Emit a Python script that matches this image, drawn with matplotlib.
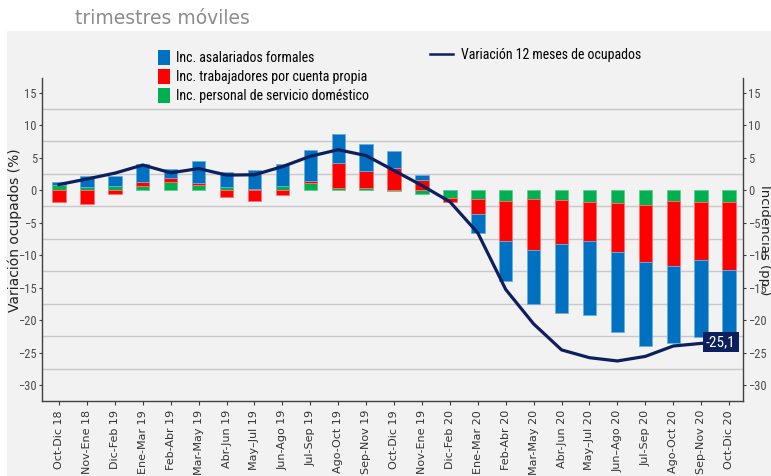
import numpy as np
import matplotlib.pyplot as plt
from matplotlib.patches import Rectangle, Patch
from matplotlib.lines import Line2D

periodos = ["Oct-Dic 18", "Nov-Ene 18", "Dic-Feb 19", "Ene-Mar 19", "Feb-Abr 19",
            "Mar-May 19", "Abr-Jun 19", "May\u2013Jul 19", "Jun-Ago 19", "Jul-Sep 19",
            "Ago-Oct 19", "Sep-Nov 19", "Oct-Dic 19", "Nov-Ene 19", "Dic-Feb 20",
            "Ene-Mar 20", "Feb-Abr 20", "Mar-May 20", "Abr-Jun 20", "May\u2013Jul 20",
            "Jun\u2013Ago 20", "Jul-Sep 20", "Ago-Oct 20", "Sep-Nov 20", "Oct-Dic 20"]

asalariados = [0.51, 1.7, 1.43, 2.77, 1.43, 3.5, 2.3, 2.95, 3.4, 4.77, 4.46, 4.3, 2.7,
               0.72, 0.0, -3.0, -6.15, -8.2, -10.6, -11.3, -12.3, -13.05, -11.9, -11.9, -9.8]
cuenta_propia = [-1.8, -2.1, -0.56, 0.61, 0.57, 0.26, -1.1, -1.65, -0.8, 0.35, 3.74, 2.5, 3.35,
                 1.54, -0.6, -2.25, -6.15, -7.9, -6.7, -6.0, -7.6, -8.7, -10.0, -8.9, -10.45]
domestico = [0.77, 0.4, 0.67, 0.62, 1.28, 0.77, 0.5, 0.15, 0.6, 1.03, 0.36, 0.36, -0.1,
             -0.67, -1.2, -1.4, -1.7, -1.4, -1.6, -1.9, -2.0, -2.3, -1.7, -1.8, -1.8]
variacion = [0.85, 1.7, 2.6, 3.85, 2.65, 3.3, 2.3, 2.35, 3.6, 5.2, 6.2, 5.3, 3.0,
             0.7, -1.8, -6.6, -15.3, -20.6, -24.6, -25.8, -26.3, -25.6, -24.0, -23.6, -23.4]
etiqueta_final = "-25,1"

narrow = ['Roboto Condensed', 'DejaVu Sans']
n = len(periodos)
x = np.arange(n)

fig = plt.figure(figsize=(7.71, 4.76), dpi=100)
fig.patches.append(Rectangle((0.009, 0), 1, 0.935, transform=fig.transFigure,
                             facecolor='#f2f2f2', edgecolor='none', zorder=-10))
ax = fig.add_axes([0.0545, 0.1576, 0.9092, 0.6784])
ax.set_facecolor('#f2f2f2')

series = [(domestico, '#00b050', '#60cc8c', "Inc. personal de servicio doméstico"),
          (cuenta_propia, '#ff0000', '#ff7070', "Inc. trabajadores por cuenta propia"),
          (asalariados, '#0070c0', '#6aaee0', "Inc. asalariados formales")]

# apilado: positivos hacia arriba y negativos hacia abajo, por separado
pos = np.zeros(n)
neg = np.zeros(n)
for vals, color, edge, lab in series:
    v = np.array(vals)
    bottom = np.where(v >= 0, pos, neg)
    ax.bar(x, v, bottom=bottom, width=0.48, color=color, edgecolor=edge, linewidth=0.6, zorder=2)
    pos += np.clip(v, 0, None)
    neg += np.clip(v, None, 0)

ax.plot(x, variacion, color='#0d1f5c', lw=2.3, zorder=3)
ax.text(x[-1] - 0.3, variacion[-1], etiqueta_final, ha='center', va='center', color='white',
        fontsize=11, family=narrow,
        bbox=dict(boxstyle='square,pad=0.2', fc='#0d1f5c', ec='none'), zorder=4)

ax.set_xlim(-0.61, n - 0.5)
ax.set_ylim(-32.46, 17.23)
ax.set_yticks(np.arange(-30, 16, 5))
ax.set_yticks(np.arange(-27.5, 15, 5), minor=True)
ax.grid(which='minor', axis='y', color='#c8c8c8', lw=1, zorder=0)
ax.set_axisbelow(True)

ax.set_xticks(x)
ax.set_xticklabels(periodos, rotation=90, fontsize=8, color='#333333')
ax.tick_params(axis='y', which='major', left=True, right=True, labelright=True,
               direction='out', length=2.5, pad=1.2, labelsize=9, labelcolor='#4d4d4d',
               color='#404040')
ax.tick_params(axis='y', which='minor', length=0)
ax.tick_params(axis='x', direction='out', length=3, color='#404040')
for lbl in ax.get_yticklabels():
    lbl.set_family(narrow)

ax.spines['top'].set_visible(False)
for s in ['left', 'right', 'bottom']:
    ax.spines[s].set_color('#404040')
    ax.spines[s].set_linewidth(1)

fig.text(15 / 771, 1 - 230 / 476, "Variación ocupados (%)", rotation=90, ha='center',
         va='center', fontsize=10, color='#222222')
fig.text(765 / 771, 1 - 240 / 476, "Incidencias (pp.)", rotation=-90, ha='center',
         va='center', fontsize=9.5, color='#222222')

fig.text(75 / 771, 1 - 19 / 476, "trimestres móviles", ha='left', va='center',
         fontsize=13.5, color='#8c8c8c')

handles = [Patch(facecolor=c, edgecolor='none') for _, c, _, _ in series[::-1]]
labels = [lab for _, _, _, lab in series[::-1]]
fig.legend(handles, labels, loc='upper left', bbox_to_anchor=(145 / 771, 1 - 38 / 476),
           frameon=False, handlelength=0.9, handleheight=1.2, handletextpad=0.4,
           labelspacing=0.3, prop={'family': narrow, 'size': 10})
fig.legend([Line2D([0], [0], color='#0d1f5c', lw=1.8)], ["Variación 12 meses de ocupados"],
           loc='upper left', bbox_to_anchor=(418 / 771, 1 - 35 / 476), frameon=False,
           handlelength=1.6, handletextpad=0.6, prop={'family': narrow, 'size': 10})

fig.savefig('out.png', dpi=100)
